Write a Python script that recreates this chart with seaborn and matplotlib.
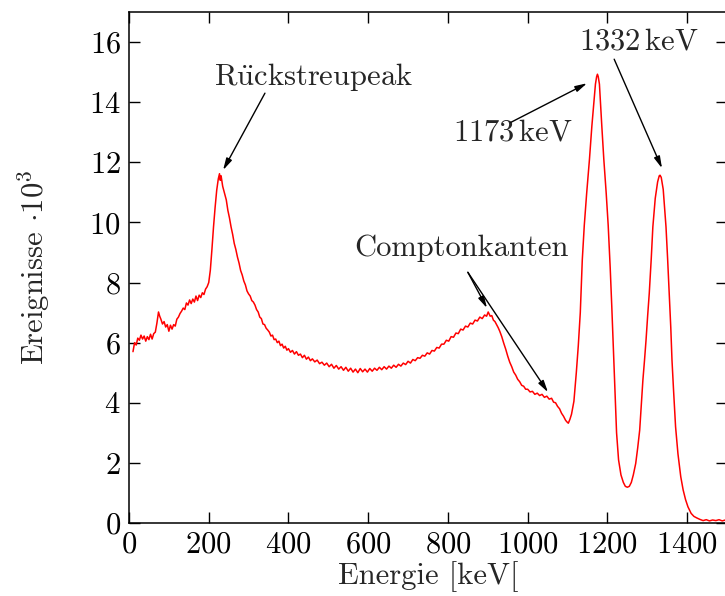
import matplotlib
matplotlib.use("Agg")
import matplotlib.pyplot as plt
import seaborn as sns
import pandas as pd

energy = [10, 14, 18, 22, 26, 30, 34, 38, 42, 46, 50, 54, 58, 62, 66, 70, 74, 77, 80, 84,
          88, 92, 96, 100, 104, 108, 112, 116, 120, 124, 128, 132, 136, 140, 144, 148, 152,
          156, 160, 164, 168, 172, 176, 180, 184, 188, 192, 196, 200, 204, 208, 212, 216, 220,
          224, 227, 229, 231, 235, 240, 244, 248, 252, 256, 260, 264, 268, 272, 276, 280, 284,
          288, 292, 296, 300, 304, 308, 312, 316, 320, 324, 328, 332, 336, 340, 344, 348, 352,
          356, 360, 364, 368, 372, 376, 380, 384, 388, 392, 396, 400, 405, 410, 415, 420, 425,
          430, 435, 440, 445, 450, 455, 460, 466, 472, 478, 484, 490, 496, 502, 508, 514, 520,
          526, 532, 538, 544, 550, 556, 562, 568, 574, 580, 586, 592, 598, 604, 610, 616, 622,
          628, 634, 640, 646, 652, 658, 664, 670, 676, 682, 688, 694, 700, 706, 712, 718, 724,
          730, 736, 742, 748, 754, 760, 766, 772, 778, 784, 790, 796, 802, 808, 814, 820, 826,
          832, 838, 844, 850, 856, 862, 868, 874, 880, 886, 892, 897, 901, 906, 910, 914, 918,
          922, 926, 930, 935, 940, 945, 950, 955, 960, 965, 970, 975, 980, 985, 990, 995, 1000,
          1006, 1012, 1018, 1024, 1030, 1036, 1042, 1048, 1054, 1060, 1065, 1070, 1075, 1080,
          1085, 1090, 1095, 1098, 1102, 1106, 1110,
          1116, 1122, 1127, 1132, 1137, 1142, 1148, 1155, 1161, 1166, 1170, 1173, 1175, 1177,
          1180, 1186, 1191, 1197, 1202, 1207, 1211, 1215, 1219, 1223, 1228, 1234, 1240, 1245,
          1250, 1255, 1260, 1265, 1271, 1276, 1281, 1285, 1289, 1293, 1297, 1301, 1305, 1310,
          1314, 1320, 1326, 1330, 1332, 1335, 1340, 1347, 1351, 1355, 1359, 1362, 1366, 1371,
          1377, 1384, 1390, 1396, 1402, 1410, 1417, 1424, 1432, 1440, 1448, 1456, 1464, 1472,
          1480, 1488, 1496, 1500]
counts = [5.70, 6.00, 5.92, 6.15, 6.08, 6.25, 6.12, 6.22, 6.05, 6.20, 6.10, 6.28, 6.12, 6.30,
          6.35, 6.65, 7.02, 6.88, 6.78, 6.62, 6.70, 6.52, 6.60, 6.38, 6.58, 6.45, 6.60, 6.55,
          6.78, 6.85, 6.97, 7.05, 7.15, 7.10, 7.32, 7.25, 7.42, 7.30, 7.45, 7.35, 7.55, 7.40,
          7.58, 7.50, 7.66, 7.60, 7.78, 7.86, 8.00, 8.41, 9.10, 9.85, 10.50, 11.07, 11.45,
          11.62, 11.40, 11.55, 11.20, 10.95, 10.75, 10.40, 10.15, 9.85, 9.60, 9.30, 9.10, 8.85,
          8.65, 8.40, 8.25, 8.05, 7.92, 7.72, 7.62, 7.55, 7.40, 7.35, 7.25, 7.10, 7.02, 6.85,
          6.80, 6.62, 6.60, 6.48, 6.42, 6.35, 6.22, 6.25, 6.10, 6.12, 6.00, 6.05, 5.90, 5.95,
          5.82, 5.88, 5.75, 5.80, 5.68, 5.74, 5.62, 5.70, 5.58, 5.62, 5.50, 5.58, 5.45, 5.52,
          5.40, 5.46, 5.36, 5.42, 5.30, 5.35, 5.25, 5.32, 5.20, 5.28, 5.15, 5.24, 5.12, 5.20,
          5.08, 5.18, 5.05, 5.15, 5.02, 5.12, 5.00, 5.14, 5.03, 5.12, 5.02, 5.14, 5.05, 5.15,
          5.08, 5.18, 5.10, 5.20, 5.12, 5.22, 5.15, 5.25, 5.18, 5.28, 5.22, 5.32, 5.27, 5.38,
          5.32, 5.44, 5.40, 5.50, 5.48, 5.58, 5.55, 5.66, 5.62, 5.74, 5.72, 5.84, 5.82, 5.95,
          5.95, 6.08, 6.05, 6.20, 6.18, 6.32, 6.30, 6.45, 6.42, 6.55, 6.52, 6.65, 6.62, 6.75,
          6.72, 6.85, 6.80, 6.92, 6.88, 7.02, 6.88, 6.90, 6.75, 6.70, 6.60, 6.50, 6.38, 6.20,
          5.98, 5.78, 5.55, 5.35, 5.20, 5.02, 4.92, 4.78, 4.70, 4.58, 4.55, 4.45, 4.45, 4.36,
          4.38, 4.28, 4.32, 4.24, 4.28, 4.18, 4.22, 4.12, 4.15, 4.02, 4.00, 3.88, 3.80, 3.65,
          3.55, 3.42, 3.37, 3.32, 3.45, 3.62,
          4.05, 5.00, 5.90, 7.00, 8.75, 9.90, 10.97, 12.10, 13.20, 14.00, 14.60, 14.85, 14.93,
          14.85, 14.60, 13.20, 12.10, 10.97, 9.90, 8.50, 7.20, 5.80, 4.40, 3.00, 2.10, 1.60,
          1.35, 1.22, 1.19, 1.22, 1.35, 1.60, 1.98, 2.50, 3.09, 3.90, 4.75, 5.40, 6.10, 6.90,
          7.64, 8.80, 9.85, 10.80, 11.35, 11.55, 11.57, 11.50, 11.10, 9.85, 8.80, 7.64, 6.50,
          5.42, 4.40, 3.20, 2.30, 1.54, 1.10, 0.78, 0.54, 0.32, 0.22, 0.17, 0.12, 0.08, 0.11,
          0.07, 0.10, 0.08, 0.11, 0.07, 0.10, 0.08]

xticks = [0, 200, 400, 600, 800, 1000, 1200, 1400]
yticks = [0, 2, 4, 6, 8, 10, 12, 14, 16]

sns.set_style("ticks")
plt.rcParams["font.family"] = ["cmr10", "DejaVu Serif"]
plt.rcParams["mathtext.fontset"] = "cm"
plt.rcParams["axes.formatter.use_mathtext"] = True
plt.rcParams["axes.unicode_minus"] = False

FS = 22
fig = plt.figure(figsize=(7.25, 5.96), dpi=100)
ax = fig.add_axes([129 / 725, 73 / 596, 598 / 725, 511 / 596])

df = pd.DataFrame({"E": energy, "C": counts})
sns.lineplot(data=df, x="E", y="C", color="red", lw=1.1, ax=ax)

ax.set_xlim(0, 1500)
ax.set_ylim(0, 17)
ax.set_xticks(xticks)
ax.set_yticks(yticks)
ax.tick_params(direction="in", length=8, width=1.0, top=True, right=True,
               labelsize=FS, pad=6, colors="black")
for s in ax.spines.values():
    s.set_linewidth(1.1)
    s.set_color("black")

ax.set_xlabel("Energie [keV[", fontsize=FS, labelpad=2)
ax.set_ylabel(r"Ereignisse $\cdot 10^3$", fontsize=FS, labelpad=27)

ap = dict(arrowstyle="-|>,head_length=0.7,head_width=0.18", color="black", lw=1.0,
          shrinkA=0, shrinkB=0)

ax.text(462, 14.83, r"$\mathrm{R\ddot{u}ckstreupeak}$", fontsize=FS, ha="center", va="center")
ax.annotate("", xy=(236, 11.74), xytext=(341, 14.3), arrowprops=ap)

ax.text(963, 12.97, r"$\mathrm{1173\,keV}$", fontsize=FS, ha="center", va="center")
ax.annotate("", xy=(1149, 14.63), xytext=(958, 13.33), arrowprops=ap)

ax.text(1280, 16.0, r"$\mathrm{1332\,keV}$", fontsize=FS, ha="center", va="center")
ax.annotate("", xy=(1337, 11.8), xytext=(1217, 15.43), arrowprops=ap)

ax.text(833, 9.14, "Comptonkanten", fontsize=FS, ha="center", va="center")
ax.annotate("", xy=(898, 7.15), xytext=(850, 8.34), arrowprops=ap)
ax.annotate("", xy=(1051, 4.35), xytext=(850, 8.34), arrowprops=ap)

fig.savefig("out.png", dpi=100)
